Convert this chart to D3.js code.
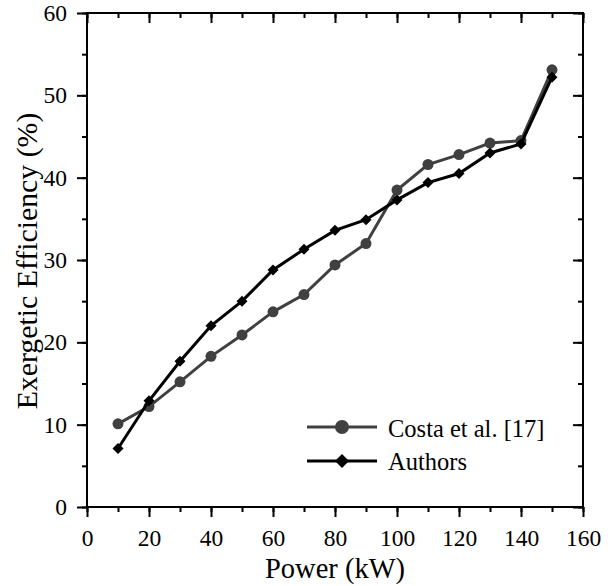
<html>
<head>
<script src="https://cdn.jsdelivr.net/npm/d3@7"></script>
<style>
  body { margin: 0; background: #fff; }
  text { font-family: "Liberation Serif", "Times New Roman", serif; fill: #000; }
</style>
</head>
<body>
<script>
// data
var power = [10, 20, 30, 40, 50, 60, 70, 80, 90, 100, 110, 120, 130, 140, 150];
var costa = [10.1, 12.2, 15.2, 18.3, 20.9, 23.7, 25.8, 29.4, 32.0, 38.5, 41.6, 42.8, 44.2, 44.5, 53.1];
var authors = [7.1, 12.9, 17.7, 22.0, 25.0, 28.8, 31.3, 33.6, 34.9, 37.3, 39.4, 40.5, 43.0, 44.1, 52.2];
var xTicks = [0, 20, 40, 60, 80, 100, 120, 140, 160];
var yTicks = [0, 10, 20, 30, 40, 50, 60];

var w = 608, h = 586;
var m = {left: 87, right: 25, top: 13, bottom: 79};

var svg = d3.select("body").append("svg")
    .attr("width", w)
    .attr("height", h);

var x = d3.scaleLinear().domain([0, 160]).range([m.left, w - m.right]);
var y = d3.scaleLinear().domain([0, 60]).range([h - m.bottom, m.top]);

var minorX = d3.range(0, 161, 10);
var minorY = d3.range(0, 61, 5);

function styleAxis(g) {
    g.select(".domain").remove();
    g.selectAll("line").attr("stroke", "#000").attr("stroke-width", 2);
    g.selectAll("text").attr("font-size", 23.5).attr("fill", "#000")
        .attr("font-family", "Liberation Serif, Times New Roman, serif");
}

// bottom + left: ticks outward
svg.append("g").attr("transform", "translate(0," + y(0) + ")")
    .call(d3.axisBottom(x).tickValues(minorX).tickSize(5).tickFormat(""))
    .call(styleAxis);
var bx = svg.append("g").attr("transform", "translate(0," + y(0) + ")")
    .call(d3.axisBottom(x).tickValues(xTicks).tickSize(10).tickFormat(d3.format("d")))
    .call(styleAxis);
bx.selectAll("text").attr("y", 38.5).attr("dy", null);

svg.append("g").attr("transform", "translate(" + x(0) + ",0)")
    .call(d3.axisLeft(y).tickValues(minorY).tickSize(5).tickFormat(""))
    .call(styleAxis);
svg.append("g").attr("transform", "translate(" + x(0) + ",0)")
    .call(d3.axisLeft(y).tickValues(yTicks).tickSize(10).tickPadding(10).tickFormat(d3.format("d")))
    .call(styleAxis);

// top + right: ticks inward
svg.append("g").attr("transform", "translate(0," + y(60) + ")")
    .call(d3.axisBottom(x).tickValues(minorX).tickSize(5).tickFormat(""))
    .call(styleAxis);
svg.append("g").attr("transform", "translate(0," + y(60) + ")")
    .call(d3.axisBottom(x).tickValues(xTicks).tickSize(10).tickFormat(""))
    .call(styleAxis);
svg.append("g").attr("transform", "translate(" + x(160) + ",0)")
    .call(d3.axisLeft(y).tickValues(minorY).tickSize(5).tickFormat(""))
    .call(styleAxis);
svg.append("g").attr("transform", "translate(" + x(160) + ",0)")
    .call(d3.axisLeft(y).tickValues(yTicks).tickSize(10).tickFormat(""))
    .call(styleAxis);

// frame
svg.append("rect")
    .attr("x", x(0)).attr("y", y(60))
    .attr("width", x(160) - x(0)).attr("height", y(0) - y(60))
    .attr("fill", "none").attr("stroke", "#000").attr("stroke-width", 2);

var line = d3.line().x(function(d) { return x(d[0]); }).y(function(d) { return y(d[1]); });

function diamond(r) {
    return "M0," + (-r) + "L" + r + ",0L0," + r + "L" + (-r) + ",0Z";
}

var grey = "#404040";
var costaPts = d3.zip(power, costa);
var authPts = d3.zip(power, authors);

svg.append("path").datum(costaPts).attr("d", line)
    .attr("fill", "none").attr("stroke", grey).attr("stroke-width", 3);
svg.selectAll(".costa").data(costaPts).enter().append("circle")
    .attr("cx", function(d) { return x(d[0]); })
    .attr("cy", function(d) { return y(d[1]); })
    .attr("r", 5.5).attr("fill", grey);

svg.append("path").datum(authPts).attr("d", line)
    .attr("fill", "none").attr("stroke", "#000").attr("stroke-width", 3);
svg.selectAll(".auth").data(authPts).enter().append("path")
    .attr("d", diamond(5.5))
    .attr("transform", function(d) { return "translate(" + x(d[0]) + "," + y(d[1]) + ")"; })
    .attr("fill", "#000");

// legend
var lg = svg.append("g").attr("transform", "translate(307,427)");
lg.append("line").attr("x1", 0).attr("x2", 70).attr("y1", 0).attr("y2", 0)
    .attr("stroke", grey).attr("stroke-width", 3);
lg.append("circle").attr("cx", 35).attr("cy", 0).attr("r", 7).attr("fill", grey);
lg.append("text").attr("x", 81).attr("y", 9.5).attr("font-size", 24.5).text("Costa et al. [17]");

lg.append("line").attr("x1", 0).attr("x2", 70).attr("y1", 34).attr("y2", 34)
    .attr("stroke", "#000").attr("stroke-width", 3);
lg.append("path").attr("d", diamond(7)).attr("transform", "translate(35,34)").attr("fill", "#000");
lg.append("text").attr("x", 81).attr("y", 43).attr("font-size", 24.5).text("Authors");

// axis titles
svg.append("text").attr("x", (x(0) + x(160)) / 2).attr("y", 578)
    .attr("text-anchor", "middle").attr("font-size", 28.5).text("Power (kW)");
svg.append("text")
    .attr("transform", "translate(37,261) rotate(-90)")
    .attr("text-anchor", "middle").attr("font-size", 29.8).text("Exergetic Efficiency (%)");
</script>
</body>
</html>
